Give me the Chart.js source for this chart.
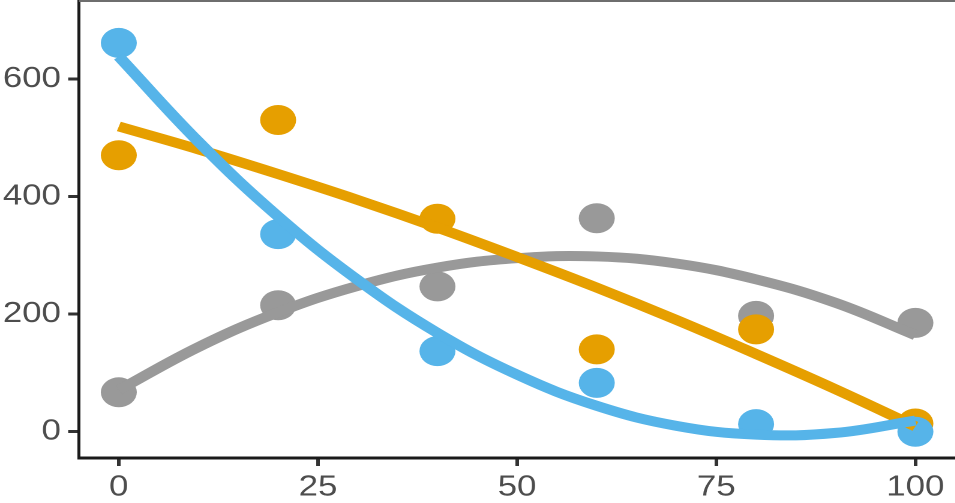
<!DOCTYPE html>
<html>
<head>
<meta charset="utf-8">
<script src="https://cdn.jsdelivr.net/npm/chart.js@4/dist/chart.umd.min.js"></script>
<style>
  html, body { margin: 0; padding: 0; background: #fff; overflow: hidden; }
  /* the plot is laid out on a narrower box and widened by 1.2;
     the panel runs on past the right edge of the window */
  #wrap { position: absolute; left: 0; top: 0; width: 800px; height: 503px;
          transform: scaleX(1.2); transform-origin: 0 0; }
  #c { display: block; }
</style>
</head>
<body>
<div id="wrap"><canvas id="c"></canvas></div>
<script>
// observed values at each dose
const doses = [0, 20, 40, 60, 80, 100];
const greyObs = [67, 215, 247, 363, 197, 185];
const orangeObs = [470, 530, 362, 140, 174, 14];
const blueObs = [661, 336, 137, 83, 13, 0];

// quadratic trend lines, sampled every 10 units
const fitX = [0, 10, 20, 30, 40, 50, 60, 70, 80, 90, 100];
const greyFit = [71, 144, 203, 248, 279, 295, 298, 286, 259, 219, 164];
const orangeFit = [519, 480, 438, 394, 347, 297, 245, 190, 132, 72, 9];
const blueFit = [638, 493, 366, 258, 168, 97, 44, 10, -5, -2, 19];

// axis ticks
const xTicks = [0, 25, 50, 75, 100];
const yTicks = [0, 200, 400, 600];

const GREY = '#999999', ORANGE = '#E69F00', BLUE = '#56B4E9';

const pairs = (xs, ys) => xs.map((x, i) => ({ x: x, y: ys[i] }));

function pointSet(ys, color, order) {
  return {
    data: pairs(doses, ys), showLine: false, order: order,
    pointRadius: 15, pointHoverRadius: 15, pointBorderWidth: 0,
    pointBackgroundColor: color, backgroundColor: color, borderColor: color
  };
}
function fitSet(ys, color, order) {
  return {
    data: pairs(fitX, ys), showLine: true, order: order,
    borderColor: color, borderWidth: 10, tension: 0.4,
    borderCapStyle: 'butt', borderJoinStyle: 'round',
    pointRadius: 0, pointHoverRadius: 0, fill: false
  };
}

// thin frame line along the top of the panel
const topRule = {
  id: 'topRule',
  afterDraw(chart) {
    const { ctx, chartArea } = chart;
    ctx.save();
    ctx.fillStyle = '#6e6e6e';
    ctx.fillRect(chartArea.left, 0, chartArea.right - chartArea.left, 2);
    ctx.restore();
  }
};

const tickFont = { family: "'Liberation Sans', Arial, sans-serif", size: 29 };

// the panel runs flush to the top and right edges
function noEdgePadding(s) {
  s.paddingTop = 0; s.paddingBottom = 0; s.paddingLeft = 0; s.paddingRight = 0;
}

new Chart(document.getElementById('c'), {
  type: 'scatter',
  data: {
    datasets: [
      pointSet(greyObs, GREY, 6),
      pointSet(orangeObs, ORANGE, 5),
      pointSet(blueObs, BLUE, 4),
      fitSet(greyFit, GREY, 3),
      fitSet(orangeFit, ORANGE, 2),
      fitSet(blueFit, BLUE, 1)
    ]
  },
  options: {
    responsive: true,
    maintainAspectRatio: false,
    devicePixelRatio: 2,
    animation: false,
    events: [],
    layout: { padding: 0, autoPadding: false },
    plugins: { legend: { display: false }, tooltip: { enabled: false } },
    scales: {
      x: {
        type: 'linear', min: -5, max: 105.6,
        afterBuildTicks: s => { s.ticks = xTicks.map(v => ({ value: v })); },
        afterFit: s => { s.height = 45; noEdgePadding(s); },
        grid: { drawOnChartArea: false, drawTicks: true, tickLength: 8, tickWidth: 3, tickColor: '#333333', lineWidth: 0 },
        border: { display: true, color: '#1a1a1a', width: 3 },
        ticks: { color: '#4d4d4d', font: tickFont, padding: 4, maxRotation: 0 }
      },
      y: {
        type: 'linear', min: -44.7, max: 734,
        afterBuildTicks: s => { s.ticks = yTicks.map(v => ({ value: v })); },
        afterFit: s => { s.width = 65.8; noEdgePadding(s); },
        grid: { drawOnChartArea: false, drawTicks: true, tickLength: 9, tickWidth: 3, tickColor: '#333333', lineWidth: 0 },
        border: { display: true, color: '#1a1a1a', width: 2.5 },
        ticks: { color: '#4d4d4d', font: tickFont, padding: 6 }
      }
    }
  },
  plugins: [topRule]
});
</script>
</body>
</html>
